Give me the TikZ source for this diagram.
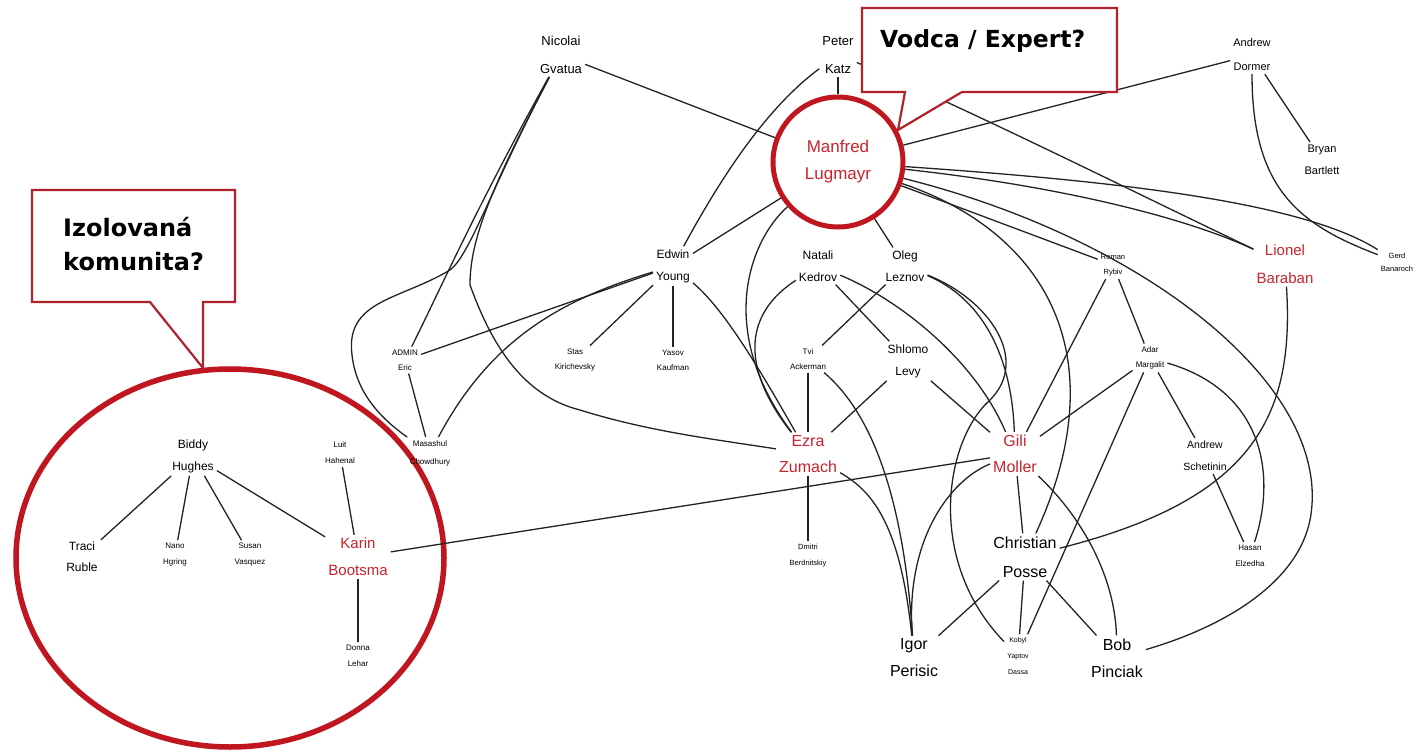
\documentclass[tikz,border=0pt]{standalone}
\usepackage{fontspec}
\setmainfont{Liberation Sans}
\newfontfamily\callfont{DejaVu Sans}
\definecolor{nred}{RGB}{200,36,46}
\definecolor{cred}{RGB}{192,22,32}
\definecolor{boxred}{RGB}{178,34,44}
\definecolor{linkgray}{RGB}{35,35,35}
\tikzset{
  person/.style={align=center, inner sep=3pt, text=black},
  fs/.style={font=\fontsize{8}{15}\selectfont},
  fx/.style={font=\fontsize{7.5}{15}\selectfont},
  fm/.style={font=\fontsize{12}{22}\selectfont},
  ft/.style={font=\fontsize{13}{28}\selectfont},
  fl/.style={font=\fontsize{16}{27}\selectfont},
  hub/.style={text=nred},
  link/.style={draw=linkgray, line width=1.3pt},
  callout/.style={draw=boxred, line width=2.2pt, fill=white, line join=miter},
  calltext/.style={font=\callfont\bfseries\fontsize{23.5}{33}\selectfont, align=left, anchor=west, inner sep=0pt}
}
\begin{document}
\begin{tikzpicture}[x=1pt,y=-1pt]
\useasboundingbox (0,0) rectangle (1425,752);
\fill[white] (0,0) rectangle (1425,752);

% isolated community circle
\draw[cred, line width=5.5pt] (230,558) ellipse [x radius=214, y radius=189];

% nodes
\node[person,ft] (nic) at (561,55) {Nicolai\\Gvatua};
\node[person,ft] (pet) at (838,55) {Peter\\Katz};
\node[circle, draw=cred, line width=5pt, minimum size=130pt, inner sep=0pt, align=center,
      font=\fontsize{17}{27}\selectfont, text=nred] (man) at (838,162) {Manfred\\Lugmayr};
\node[person,font=\fontsize{11}{24}\selectfont] (dor) at (1252,55) {Andrew\\Dormer};
\node[person,font=\fontsize{11}{22}\selectfont] (bry) at (1322,160) {Bryan\\Bartlett};
\node[person,font=\fontsize{7.5}{13}\selectfont] (ger) at (1397,262) {Gerd\\Banaroch};
\node[person,font=\fontsize{15}{28}\selectfont,hub] (lio) at (1285,264) {Lionel\\Baraban};
\node[person,fx] (rom) at (1113,265) {Roman\\Rybiv};
\node[person,fm] (edw) at (673,266) {Edwin\\Young};
\node[person,fm] (nat) at (818,266) {Natali\\Kedrov};
\node[person,fm] (ole) at (905,266) {Oleg\\Leznov};
\node[person,fs] (adm) at (405,360) {ADMIN\\Eric};
\node[person,fs] (sta) at (575,360) {Stas\\Kirichevsky};
\node[person,fs] (yas) at (673,360) {Yasov\\Kaufman};
\node[person,fs] (tvi) at (808,359) {Tvi\\Ackerman};
\node[person,fm] (shl) at (908,361) {Shlomo\\Levy};
\node[person,fs] (ada) at (1150,358) {Adar\\Margalit};
\node[person,font=\fontsize{8}{18}\selectfont] (mas) at (430,453) {Masashul\\Chowdhury};
\node[person,font=\fontsize{16}{26}\selectfont,hub] (ezr) at (808,454) {Ezra\\Zumach};
\node[person,font=\fontsize{16}{26}\selectfont,hub] (gil) at (1015,454) {Gili\\Moller};
\node[person,font=\fontsize{10.5}{22}\selectfont] (asc) at (1205,456) {Andrew\\Schetinin};
\node[person,fm] (bid) at (193,456) {Biddy\\Hughes};
\node[person,font=\fontsize{8}{16}\selectfont] (lui) at (340,453) {Luit\\Hahenal};
\node[person,font=\fontsize{12}{21}\selectfont] (tra) at (82,557) {Traci\\Ruble};
\node[person,font=\fontsize{8}{16}\selectfont] (nan) at (175,555) {Nano\\Hgring};
\node[person,font=\fontsize{8}{16}\selectfont] (sus) at (250,555) {Susan\\Vasquez};
\node[person,font=\fontsize{15}{27}\selectfont,hub] (kar) at (358,557) {Karin\\Bootsma};
\node[person,font=\fontsize{8}{16}\selectfont] (don) at (358,656) {Donna\\Lehar};
\node[person,font=\fontsize{7.5}{16}\selectfont] (dmi) at (808,556) {Dmitri\\Berdnitskiy};
\node[person,font=\fontsize{16}{29}\selectfont] (chr) at (1025,557) {Christian\\Posse};
\node[person,font=\fontsize{8}{16}\selectfont] (has) at (1250,556) {Hasan\\Elzedha};
\node[person,fl] (igo) at (914,658) {Igor\\Perisic};
\node[person,font=\fontsize{7}{16}\selectfont] (kob) at (1018,656) {Kobyl\\Yaptov\\Dassa};
\node[person,fl] (bob) at (1117,658) {Bob\\Pinciak};

% connectors
\draw[link] (nic) -- (man);
\draw[link] (nic) .. controls (475,210) and (440,290) .. (adm);
\draw[link] (nic) .. controls (490,190) and (470,255) .. (450,270) .. controls (400,300) and (345,300) .. (352,355) .. controls (356,392) and (380,418) .. (mas);
\draw[link] (nic) .. controls (490,190) and (470,240) .. (470,285) .. controls (490,340) and (520,395) .. (580,410) .. controls (650,432) and (720,440) .. (ezr);
\draw[link] (edw) -- (adm);
\draw[link] (edw) .. controls (560,300) and (490,340) .. (mas);
\draw[link] (edw) -- (sta);
\draw[link] (edw) -- (yas);
\draw[link] (edw) .. controls (725,310) and (760,370) .. (ezr);
\draw[link] (adm) -- (mas);
\draw[link] (pet) -- (man);
\draw[link] (pet) .. controls (770,105) and (725,170) .. (edw);
\draw[link] (man) -- (edw);
\draw[link] (man) .. controls (750,240) and (715,330) .. (ezr);
\draw[link] (nat) .. controls (750,310) and (735,360) .. (ezr);
\draw[link] (man) -- (ole);
\draw[link] (man) -- (dor);
\draw[link] (man) .. controls (1100,180) and (1300,200) .. (ger);
\draw[link] (man) .. controls (1050,185) and (1180,215) .. (lio);
\draw[link] (pet) .. controls (950,100) and (1150,200) .. (lio);
\draw[link] (man) -- (rom);
\draw[link] (man) .. controls (1150,240) and (1335,390) .. (1310,520) .. controls (1298,580) and (1230,625) .. (bob);
\draw[link] (man) .. controls (1040,230) and (1120,350) .. (chr);
\draw[link] (ole) .. controls (985,300) and (1012,360) .. (gil);
\draw[link] (ole) .. controls (990,300) and (1030,360) .. (990,400) .. controls (945,440) and (925,560) .. (kob);
\draw[link] (nat) -- (shl);
\draw[link] (nat) .. controls (900,300) and (975,360) .. (gil);
\draw[link] (ole) -- (tvi);
\draw[link] (tvi) -- (ezr);
\draw[link] (tvi) .. controls (880,420) and (905,520) .. (igo);
\draw[link] (ezr) .. controls (870,490) and (900,520) .. (igo);
\draw[link] (gil) .. controls (950,480) and (905,540) .. (igo);
\draw[link] (shl) -- (ezr);
\draw[link] (shl) -- (gil);
\draw[link] (gil) -- (kar);
\draw[link] (gil) -- (chr);
\draw[link] (gil) .. controls (1085,520) and (1115,580) .. (bob);
\draw[link] (gil) -- (rom);
\draw[link] (gil) -- (ada);
\draw[link] (ezr) -- (dmi);
\draw[link] (chr) -- (igo);
\draw[link] (chr) -- (kob);
\draw[link] (chr) -- (bob);
\draw[link] (lio) .. controls (1295,420) and (1250,500) .. (chr);
\draw[link] (ada) -- (kob);
\draw[link] (ada) -- (asc);
\draw[link] (ada) .. controls (1260,390) and (1278,470) .. (has);
\draw[link] (asc) -- (has);
\draw[link] (rom) -- (ada);
\draw[link] (dor) -- (bry);
\draw[link] (dor) .. controls (1252,190) and (1300,225) .. (ger);
\draw[link] (bid) -- (tra);
\draw[link] (bid) -- (nan);
\draw[link] (bid) -- (sus);
\draw[link] (bid) -- (kar);
\draw[link] (lui) -- (kar);
\draw[link] (kar) -- (don);

% callouts
\draw[callout] (862,8) -- (1117,8) -- (1117,92) -- (962,92) -- (898,130) -- (905,92) -- (862,92) -- cycle;
\node[calltext] (vod) at (880,41) {Vodca / Expert?};
\draw[callout] (32,190) -- (235,190) -- (235,302) -- (203,302) -- (203,368) -- (150,302) -- (32,302) -- cycle;
\node[calltext, font=\callfont\bfseries\fontsize{24}{34}\selectfont] (izo) at (63,244) {Izolovaná\\komunita?};
\end{tikzpicture}
\end{document}
